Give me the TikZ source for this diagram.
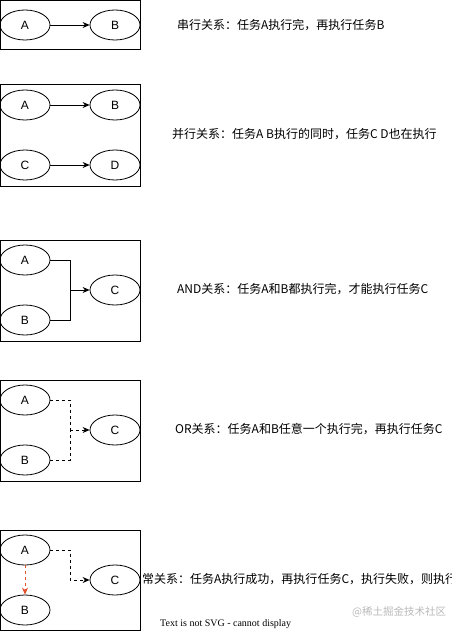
\documentclass[tikz,border=0pt]{standalone}
\usepackage{fontspec}
\setmainfont{Liberation Sans}
\newfontfamily\cjk{Noto Sans CJK SC}
\newfontfamily\tnr{Liberation Serif}
\usetikzlibrary{shapes.geometric,arrows.meta}
\definecolor{failred}{RGB}{226,80,46}

\tikzset{
  task/.style={draw, ellipse, minimum width=50pt, minimum height=30pt, inner sep=0pt, line width=0.8pt, font=\fontsize{12}{14}\selectfont},
  frame/.style={draw, line width=1pt},
  link/.style={-{Stealth[length=7pt,width=6pt]}, line width=0.8pt},
  maybe/.style={link, dash pattern=on 3pt off 3pt},
  note/.style={anchor=west, inner sep=0pt, font=\cjk\fontsize{12}{14}\selectfont},
}

\begin{document}
\begin{tikzpicture}[x=1pt,y=-1pt]
    \useasboundingbox (0,0) rectangle (451,631);
    \clip (0,0) rectangle (451,631);
    % serial
    \begin{scope}
        \draw[frame] (0.5,0.5) rectangle (140,50);
        \node[task] (a1) at (25,25) {A};
        \node[task] (b1) at (115,25) {B};
        \draw[link] (a1) -- (b1);
        \node[note] (t1) at (177,25) {串行关系：任务A执行完，再执行任务B};
    \end{scope}
    % parallel
    \begin{scope}
        \draw[frame] (0.5,85) rectangle (140,186);
        \node[task] (a2) at (25,105) {A};
        \node[task] (b2) at (115,105) {B};
        \node[task] (c2) at (25,165) {C};
        \node[task] (d2) at (115,165) {D};
        \draw[link] (a2) -- (b2);
        \draw[link] (c2) -- (d2);
        \node[note] (t2) at (172,134) {并行关系：任务A B执行的同时，任务C D也在执行};
    \end{scope}
    % and
    \begin{scope}
        \draw[frame] (0.5,240) rectangle (140,341);
        \node[task] (a3) at (25,260) {A};
        \node[task] (b3) at (25,320) {B};
        \node[task] (c3) at (115,290) {C};
        \coordinate (j3) at (70,290);
        \draw[line width=0.8pt] (a3.east) -| (j3);
        \draw[line width=0.8pt] (b3.east) -| (j3);
        \draw[link] (j3) -- (c3.west);
        \node[note] (t3) at (177,289) {AND关系：任务A和B都执行完，才能执行任务C};
    \end{scope}
    % or
    \begin{scope}
        \draw[frame] (0.5,380) rectangle (140,481);
        \node[task] (a4) at (25,400) {A};
        \node[task] (b4) at (25,460) {B};
        \node[task] (c4) at (115,430) {C};
        \coordinate (j4) at (70,430);
        \draw[line width=0.8pt, dash pattern=on 3pt off 3pt] (a4.east) -| (j4);
        \draw[line width=0.8pt, dash pattern=on 3pt off 3pt] (b4.east) -| (j4);
        \draw[maybe] (j4) -- (c4.west);
        \node[note] (t4) at (175,429) {OR关系：任务A和B任意一个执行完，再执行任务C};
    \end{scope}
    % error
    \begin{scope}
        \draw[frame] (0.5,530) rectangle (140,630.5);
        \node[task] (a5) at (25,550) {A};
        \node[task] (b5) at (25,610) {B};
        \node[task] (c5) at (115,580) {C};
        \draw[maybe] (a5.east) -| (70,580) -- (c5.west);
        \draw[maybe, failred] (a5) -- (b5);
        \node[note] (t5) at (142,579) {常关系：任务A执行成功，再执行任务C，执行失败，则执行};
        \node[anchor=west, inner sep=0pt, text=gray!55, font=\cjk\fontsize{10.5}{12}\selectfont] (wm) at (352,612) {@稀土掘金技术社区};
        \node[anchor=west, inner sep=0pt, font=\tnr\fontsize{10}{12}\selectfont] (warn) at (160,624) {Text is not SVG - cannot display};
    \end{scope}
\end{tikzpicture}
\end{document}
